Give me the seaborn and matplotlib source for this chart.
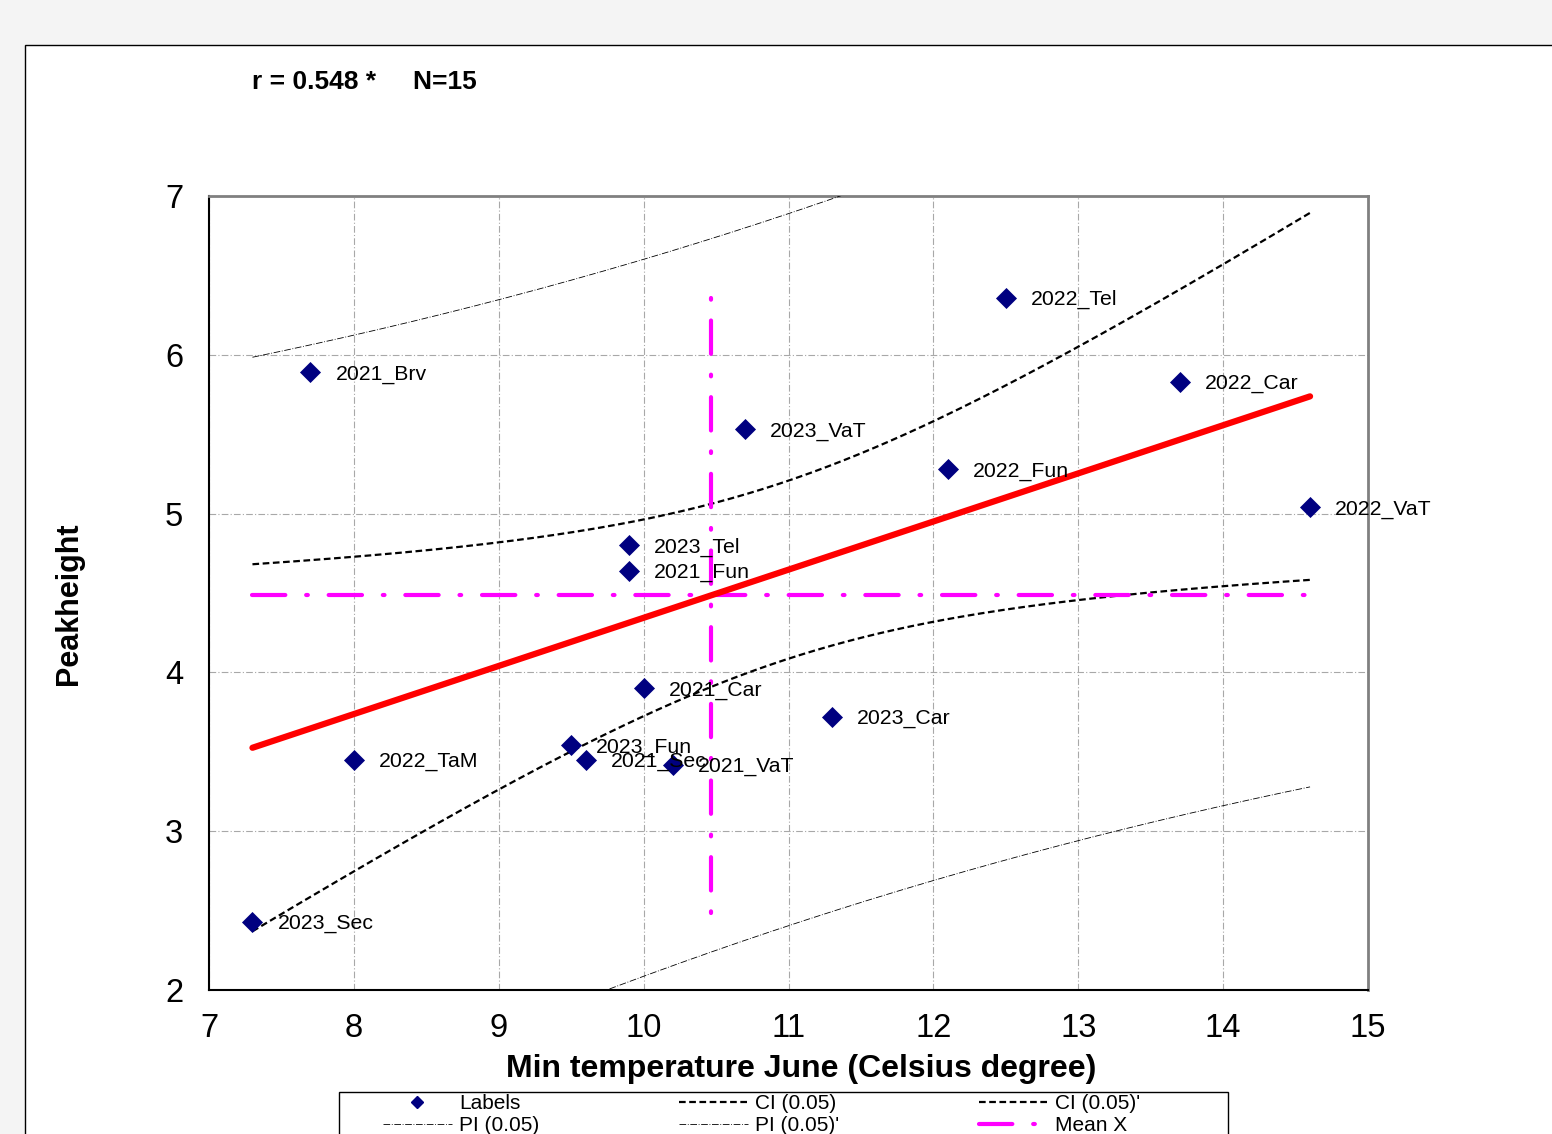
import numpy as np
import matplotlib
matplotlib.use("Agg")
import matplotlib.pyplot as plt
from matplotlib.lines import Line2D
from matplotlib.patches import Rectangle
import seaborn as sns

# site-year labels and values
labels = ["2021_Brv", "2022_Tel", "2022_Car", "2023_VaT", "2022_Fun", "2022_VaT",
          "2023_Tel", "2021_Fun", "2021_Car", "2023_Car", "2022_TaM", "2023_Fun",
          "2021_Sec", "2021_VaT", "2023_Sec"]
min_temp_june = [7.7, 12.5, 13.7, 10.7, 12.1, 14.6, 9.9, 9.9, 10.0, 11.3, 8.0, 9.5,
                 9.6, 10.2, 7.3]
peakheight = [5.89, 6.36, 5.83, 5.53, 5.28, 5.04, 4.80, 4.64, 3.90, 3.72, 3.45, 3.54,
              3.45, 3.42, 2.43]

x_ticks = [7, 8, 9, 10, 11, 12, 13, 14, 15]
y_ticks = [2, 3, 4, 5, 6, 7]
t_crit = 2.1604  # t(0.975, df=13)

sns.set_style("white")
plt.rcParams['font.family'] = ['Liberation Sans', 'DejaVu Sans']
plt.rcParams['text.color'] = 'black'
plt.rcParams['axes.labelcolor'] = 'black'
plt.rcParams['xtick.color'] = 'black'
plt.rcParams['ytick.color'] = 'black'

x = np.array(min_temp_june)
y = np.array(peakheight)
n = len(x)
slope, intercept = np.polyfit(x, y, 1)
resid = y - (intercept + slope * x)
s = np.sqrt(np.sum(resid ** 2) / (n - 2))
sxx = np.sum((x - x.mean()) ** 2)

# the original bands are symmetric about the middle of the x range
centre = (x.min() + x.max()) / 2
grid = np.linspace(x.min(), x.max(), 200)
fit = intercept + slope * grid
ci = t_crit * s * np.sqrt(1 / n + (grid - centre) ** 2 / sxx)
pi = t_crit * s * np.sqrt(1 + 1 / n + (grid - centre) ** 2 / sxx)

W, H = 1552, 1134
fig = plt.figure(figsize=(W / 100, H / 100), dpi=100)
fig.patch.set_facecolor('#f4f4f4')
fig.patches.append(Rectangle((25 / W, -0.2), 1.5, 1 - 45 / H + 0.2, transform=fig.transFigure,
                             facecolor='white', edgecolor='black', linewidth=1, zorder=-5))

ax = fig.add_axes([209 / W, 1 - 990 / H, (1368 - 209) / W, (990 - 196) / H])
ax.set_facecolor('white')

ci_style = dict(color='black', lw=1.6, linestyle=(0, (3, 1.6)))
pi_style = dict(color='black', lw=0.6, linestyle=(0, (8, 2, 1, 2)))
mean_dash = (8.0, 5.0, 0.4, 5.0)
mean_style = dict(color='#ff00ff', lw=3, dash_capstyle='round')

# confidence / prediction bands
ax.plot(grid, fit + ci, zorder=3, **ci_style)
ax.plot(grid, fit - ci, zorder=3, **ci_style)
ax.plot(grid, fit + pi, zorder=3, **pi_style)
ax.plot(grid, fit - pi, zorder=3, **pi_style)

# mean lines (vertical one starts with the dot at the top)
ax.plot([x.mean(), x.mean()], [y.max(), y.min()], zorder=4,
        linestyle=(mean_dash[0] + mean_dash[1], mean_dash), **mean_style)
ax.plot([x.min(), x.max()], [y.mean(), y.mean()], zorder=4,
        linestyle=(0, mean_dash), **mean_style)

# regression line
sns.lineplot(x=grid, y=fit, ax=ax, color='#ff0000', lw=4.5, solid_capstyle='round',
             estimator=None, zorder=5)

sns.scatterplot(x=x, y=y, ax=ax, marker='D', s=115, color='#000080', edgecolor='#000080',
                linewidth=0, zorder=6)
for lab, xi, yi in zip(labels, x, y):
    ax.annotate(lab, (xi, yi), xytext=(18, -1.5), textcoords='offset points',
                fontsize=15.3, va='center', ha='left', zorder=7)

ax.set_xlim(7, 15)
ax.set_ylim(2, 7)
ax.set_xticks(x_ticks)
ax.set_yticks(y_ticks)
ax.tick_params(axis='both', direction='inout', length=13, width=1.2, labelsize=23.5,
               color='black', pad=10)
ax.tick_params(axis='y', pad=12)
ax.grid(True, color='#a8a8a8', linestyle=(0, (6, 2, 1, 2)), linewidth=0.8)
ax.set_axisbelow(True)

for side in ['left', 'bottom']:
    ax.spines[side].set_color('black')
    ax.spines[side].set_linewidth(1.5)
for side in ['top', 'right']:
    ax.spines[side].set_color('#808080')
    ax.spines[side].set_linewidth(2)

ax.set_xlabel("Min temperature June (Celsius degree)", fontsize=23, fontweight='bold')
ax.xaxis.set_label_coords((801 - 209) / (1368 - 209), -0.080)
ax.set_ylabel("Peakheight", fontsize=22, fontweight='bold', va='center', ha='center')
ax.yaxis.set_label_coords((69 - 209) / (1368 - 209), (990 - 604) / (990 - 196))

fig.text(252 / W, 1 - 82 / H, "r = 0.548 *     N=15", fontsize=19, fontweight='bold',
         ha='left', va='center')

# legend box (drawn separately so the inner margins match)
fig.patches.append(Rectangle((339 / W, -0.1), (1228 - 339) / W, 0.1 + 1 - 1092 / H,
                             transform=fig.transFigure, facecolor='white',
                             edgecolor='black', linewidth=1, zorder=-4))
handles = [
    Line2D([], [], marker='D', color='#000080', ls='none', markersize=6),
    Line2D([], [], **pi_style),
    Line2D([], [], **ci_style),
    Line2D([], [], **pi_style),
    Line2D([], [], **ci_style),
    Line2D([], [], linestyle=(0, mean_dash), **mean_style),
]
names = ["Labels", "PI (0.05)", "CI (0.05)", "PI (0.05)'", "CI (0.05)'", "Mean X"]
leg = fig.legend(handles, names, loc='upper left', ncol=3,
                 bbox_to_anchor=(383 / W, 1 - 1094 / H),
                 bbox_transform=fig.transFigure, fontsize=15, frameon=False,
                 borderpad=0, labelspacing=0.15, handlelength=3.3, handletextpad=0.35,
                 columnspacing=6.7, borderaxespad=0)

fig.savefig("out.png", dpi=100, facecolor=fig.get_facecolor())
